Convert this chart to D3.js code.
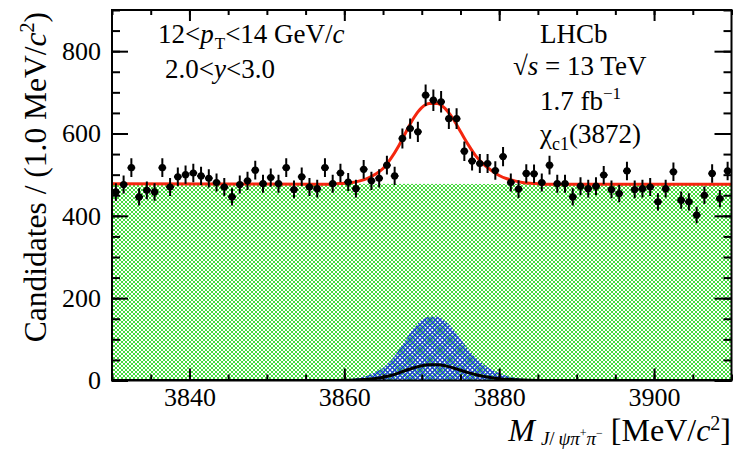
<!DOCTYPE html>
<html>
<head>
<meta charset="utf-8">
<script src="https://cdn.jsdelivr.net/npm/d3@7"></script>
<style>
  body { margin: 0; background: #fff; }
  svg { display: block; }
  svg text { font-family: "Liberation Serif", "Times New Roman", serif; fill: #000; }
</style>
</head>
<body>
<div id="chart"></div>
<script>
// candidates per 1 MeV bin, first bin starts at 3830
var binStart = 3830;
var binWidth = 1;
var counts = [
  458, 476, 517, 446, 462, 458, 517, 470, 495, 500,
  504, 497, 491, 481, 470, 446, 476, 485, 511, 478,
  493, 478, 517, 464, 495, 470, 466, 517, 478, 504,
  482, 466, 513, 485, 491, 523, 497, 588, 612, 604,
  693, 681, 677, 636, 636, 557, 533, 527, 527, 510,
  544, 481, 465, 503, 502, 481, 523, 478, 478, 446,
  472, 466, 472, 499, 464, 454, 509, 464, 466, 470,
  434, 466, 507, 438, 434, 402, 450, 503, 442, 509
];

// total fit (red)
var totalMass = [3830, 3845, 3856, 3858, 3859, 3860, 3861, 3862, 3863, 3864, 3865, 3866, 3867, 3868, 3869, 3870,
  3871, 3872, 3873, 3874, 3875, 3876, 3877, 3878, 3879, 3880, 3881, 3882, 3883, 3884, 3885, 3886, 3910];
var totalVal = [478, 477.5, 477, 477, 478, 479, 481, 485, 491, 501, 515, 539, 569, 605, 639, 663,
  673, 673, 661, 637, 605, 573, 545, 525, 510, 498, 490, 485, 481, 479, 478, 477, 477];

// background (green hatched)
var bgMass = [3830, 3910];
var bgVal = [478, 477];

// chi_c1(3872) signal (blue hatched)
var sigMass = [3830, 3858, 3859, 3860, 3861, 3862, 3863, 3864, 3865, 3866, 3867, 3868, 3869, 3870,
  3871, 3872, 3873, 3874, 3875, 3876, 3877, 3878, 3879, 3880, 3881, 3882, 3883, 3884, 3885, 3886, 3910];
var sigVal = [0, 0, 1, 2, 4, 7, 12, 20, 31, 49, 73, 101, 128, 147,
  155, 155, 145, 126, 101, 76, 55, 39, 27, 18, 11, 7, 4, 2, 1, 0, 0];

// second component (black)
var compMass = [3830, 3858, 3860, 3862, 3863, 3864, 3865, 3866, 3867, 3868, 3869, 3870, 3871, 3872,
  3873, 3874, 3875, 3876, 3877, 3878, 3879, 3880, 3881, 3882, 3883, 3884, 3886, 3910];
var compVal = [0, 0, 0.5, 2, 3, 5, 8, 12, 18, 25, 31, 36, 38, 38,
  36, 31, 25, 19, 14, 10, 7, 4, 3, 2, 1, 0.5, 0, 0];

var xTicks = [3840, 3860, 3880, 3900];
var yTicks = [0, 200, 400, 600, 800];

var W = 736, H = 452;
var margin = { top: 10, left: 112, right: 4.5, bottom: 71.5 };
var serif = "'Liberation Serif', 'Times New Roman', serif";

var svg = d3.select("#chart").append("svg").attr("width", W).attr("height", H);

var x = d3.scaleLinear().domain([3830, 3910]).range([margin.left, W - margin.right]);
var y = d3.scaleLinear().domain([0, 900]).range([H - margin.bottom, margin.top]);

var defs = svg.append("defs");

var green = defs.append("pattern").attr("id", "hatchGreen")
  .attr("patternUnits", "userSpaceOnUse").attr("width", 4).attr("height", 4);
green.append("rect").attr("width", 4).attr("height", 4).attr("fill", "#fff");
green.append("path").attr("d", "M-1,-1L5,5M5,-1L-1,5")
  .attr("stroke", "#45dc3e").attr("stroke-width", 1);

var blue = defs.append("pattern").attr("id", "hatchBlue")
  .attr("patternUnits", "userSpaceOnUse").attr("width", 5).attr("height", 5);
blue.append("path").attr("d", "M-1,-1L6,6M6,-1L-1,6")
  .attr("stroke", "#1c3fd8").attr("stroke-width", 1.3);

defs.append("clipPath").attr("id", "frameClip").append("rect")
  .attr("x", x(3830)).attr("y", y(900))
  .attr("width", x(3910) - x(3830)).attr("height", y(0) - y(900));

var plot = svg.append("g").attr("clip-path", "url(#frameClip)");

function pairs(xs, ys) {
  return xs.map(function (d, i) { return [d, ys[i]]; });
}

// background area
plot.append("path")
  .datum(pairs(bgMass, bgVal))
  .attr("fill", "url(#hatchGreen)")
  .attr("d", d3.area().x((d) => x(d[0])).y0(y(0)).y1((d) => y(d[1])));

// signal area
plot.append("path")
  .datum(pairs(sigMass, sigVal))
  .attr("fill", "url(#hatchBlue)")
  .attr("d", d3.area().curve(d3.curveMonotoneX).x((d) => x(d[0])).y0(y(0)).y1((d) => y(d[1])));

var line = d3.line().curve(d3.curveMonotoneX).x((d) => x(d[0])).y((d) => y(d[1]));

plot.append("path")
  .datum(pairs(compMass, compVal))
  .attr("fill", "none").attr("stroke", "#000").attr("stroke-width", 3)
  .attr("d", line);

plot.append("path")
  .datum(pairs(totalMass, totalVal))
  .attr("fill", "none").attr("stroke", "#f4260e").attr("stroke-width", 3)
  .attr("d", line);

// data points
var pts = plot.append("g").selectAll("g")
  .data(counts)
  .enter()
  .append("g");

pts.append("line")
  .attr("x1", (d, i) => x(binStart + i * binWidth + binWidth / 2))
  .attr("x2", (d, i) => x(binStart + i * binWidth + binWidth / 2))
  .attr("y1", (d) => y(d - Math.sqrt(d)))
  .attr("y2", (d) => y(d + Math.sqrt(d)))
  .attr("stroke", "#000").attr("stroke-width", 2);

pts.append("line")
  .attr("x1", (d, i) => x(binStart + i * binWidth))
  .attr("x2", (d, i) => x(binStart + (i + 1) * binWidth))
  .attr("y1", (d) => y(d))
  .attr("y2", (d) => y(d))
  .attr("stroke", "#000").attr("stroke-width", 2);

pts.append("circle")
  .attr("cx", (d, i) => x(binStart + i * binWidth + binWidth / 2))
  .attr("cy", (d) => y(d))
  .attr("r", 3.6)
  .attr("fill", "#000");

// axes with inward ticks
function styleAxis(g) {
  g.attr("font-family", serif);
  g.select(".domain").remove();
  g.selectAll(".tick line").attr("stroke", "#000").attr("stroke-width", 2);
  g.selectAll("text").attr("font-family", serif).attr("font-size", 26).attr("fill", "#000");
}

var xMinor = x.ticks(16);
var yMinor = y.ticks(18);

svg.append("g").attr("transform", "translate(0," + y(0) + ")")
  .call(d3.axisBottom(x).tickValues(xMinor).tickSize(-6).tickFormat(""))
  .call(styleAxis);
svg.append("g").attr("transform", "translate(0," + y(0) + ")")
  .call(d3.axisBottom(x).tickValues(xTicks).tickSize(-12).tickPadding(7).tickFormat(d3.format("d")))
  .call(styleAxis);

svg.append("g").attr("transform", "translate(0," + y(900) + ")")
  .call(d3.axisTop(x).tickValues(xMinor).tickSize(-5).tickFormat(""))
  .call(styleAxis);
svg.append("g").attr("transform", "translate(0," + y(900) + ")")
  .call(d3.axisTop(x).tickValues(xTicks).tickSize(-11).tickFormat(""))
  .call(styleAxis);

svg.append("g").attr("transform", "translate(" + x(3830) + ",0)")
  .call(d3.axisLeft(y).tickValues(yMinor).tickSize(-8).tickFormat(""))
  .call(styleAxis);
svg.append("g").attr("transform", "translate(" + x(3830) + ",0)")
  .call(d3.axisLeft(y).tickValues(yTicks).tickSize(-16).tickPadding(11).tickFormat(d3.format("d")))
  .call(styleAxis);

svg.append("g").attr("transform", "translate(" + x(3910) + ",0)")
  .call(d3.axisRight(y).tickValues(yMinor).tickSize(-8).tickFormat(""))
  .call(styleAxis);
svg.append("g").attr("transform", "translate(" + x(3910) + ",0)")
  .call(d3.axisRight(y).tickValues(yTicks).tickSize(-17).tickFormat(""))
  .call(styleAxis);

svg.append("rect")
  .attr("x", x(3830)).attr("y", y(900))
  .attr("width", x(3910) - x(3830)).attr("height", y(0) - y(900))
  .attr("fill", "none").attr("stroke", "#000").attr("stroke-width", 2);

// axis titles
var yt = svg.append("text")
  .attr("transform", "translate(46,12) rotate(-90)")
  .attr("text-anchor", "end").attr("font-size", 31.5);
yt.append("tspan").text("Candidates / (1.0 MeV/");
yt.append("tspan").attr("font-style", "italic").text("c");
yt.append("tspan").attr("font-size", 20).attr("dy", -12).text("2");
yt.append("tspan").attr("dy", 12).text(")");

var xt = svg.append("text")
  .attr("x", 731).attr("y", 441)
  .attr("text-anchor", "end").attr("font-size", 32);
xt.append("tspan").attr("font-style", "italic").text("M");
xt.append("tspan").attr("font-size", 19).attr("dy", 4).attr("dx", 6).attr("font-style", "italic").text("J");
xt.append("tspan").attr("font-size", 19).text("/\u2009");
xt.append("tspan").attr("font-size", 19).attr("font-style", "italic").text("ψπ");
xt.append("tspan").attr("font-size", 12).attr("dy", -8).text("+");
xt.append("tspan").attr("font-size", 19).attr("dy", 8).attr("font-style", "italic").text("π");
xt.append("tspan").attr("font-size", 12).attr("dy", -8).text("−");
xt.append("tspan").attr("dy", 4).text(" [MeV/");
xt.append("tspan").attr("font-style", "italic").text("c");
xt.append("tspan").attr("font-size", 20).attr("dy", -11).text("2");
xt.append("tspan").attr("dy", 11).text("]");

// labels inside the frame
var t1 = svg.append("text").attr("x", 158).attr("y", 43).attr("font-size", 27);
t1.append("tspan").text("12<");
t1.append("tspan").attr("font-style", "italic").text("p");
t1.append("tspan").attr("font-size", 17).attr("dy", 6).attr("dx", 1).text("T");
t1.append("tspan").attr("dy", -6).text("<14 GeV/");
t1.append("tspan").attr("font-style", "italic").text("c");

var t2 = svg.append("text").attr("x", 165).attr("y", 78).attr("font-size", 27);
t2.append("tspan").text("2.0<");
t2.append("tspan").attr("font-style", "italic").text("y");
t2.append("tspan").text("<3.0");

svg.append("text").attr("x", 540).attr("y", 43).attr("font-size", 27).text("LHCb");

var t3 = svg.append("text").attr("x", 513).attr("y", 75).attr("font-size", 27);
t3.append("tspan").text("√");
t3.append("tspan").attr("font-style", "italic").text("s");
t3.append("tspan").text(" = 13 TeV");

var t4 = svg.append("text").attr("x", 540).attr("y", 110).attr("font-size", 27);
t4.append("tspan").text("1.7 fb");
t4.append("tspan").attr("font-size", 17).attr("dy", -11).text("−1");

var t5 = svg.append("text").attr("x", 540).attr("y", 143).attr("font-size", 27);
t5.append("tspan").text("χ");
t5.append("tspan").attr("font-size", 18).attr("dy", 7).text("c1");
t5.append("tspan").attr("dy", -7).text("(3872)");
</script>
</body>
</html>
